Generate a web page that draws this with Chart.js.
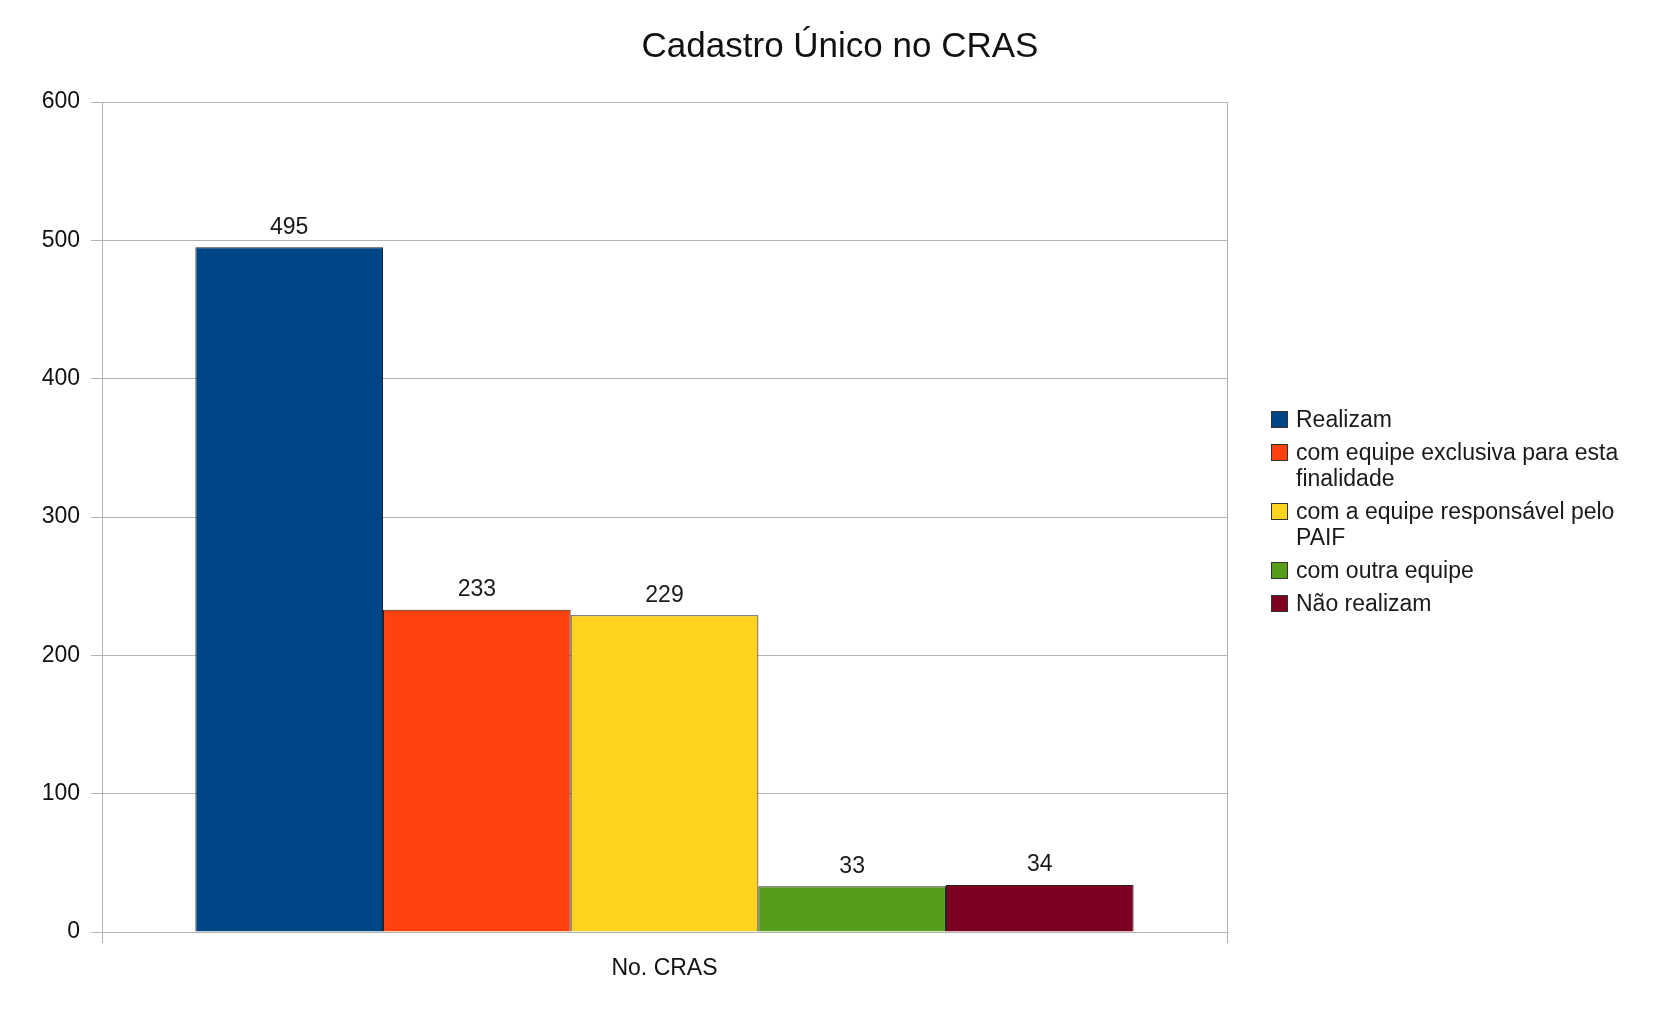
<!DOCTYPE html>
<html lang="pt-BR">
<head>
<meta charset="utf-8">
<title>Cadastro Único no CRAS</title>
<script src="https://cdn.jsdelivr.net/npm/chart.js@4.4.1/dist/chart.umd.min.js"></script>
<style>
  html, body { margin: 0; padding: 0; background: #fff; }
  #wrap { position: relative; width: 1666px; height: 1016px; }
  #legend {
    position: absolute; left: 1271px; top: 406px; width: 380px;
    list-style: none; margin: 0; padding: 0;
    font-family: "Liberation Sans", Arial, sans-serif; font-size: 23px;
    line-height: 26px; color: #1a1a1a;
  }
  #legend li { display: flex; align-items: flex-start; margin-bottom: 7px; }
  #legend .box {
    flex: none; width: 15px; height: 15px; margin-top: 5px; margin-right: 8px;
    border: 1px solid #333;
  }
  #legend .txt { width: 340px; }
</style>
</head>
<body>
<div id="wrap">
  <canvas id="chart" width="1666" height="1016"></canvas>
  <ul id="legend"></ul>
</div>
<script>
const title = "Cadastro Único no CRAS";
const categories = ["No. CRAS"];
const seriesNames = [
  "Realizam",
  "com equipe exclusiva para esta finalidade",
  "com a equipe responsável pelo PAIF",
  "com outra equipe",
  "Não realizam",
];
const seriesValues = [495, 233, 229, 33, 34];
const seriesColors = ["#004586", "#ff420e", "#ffd320", "#579d1c", "#7e0021"];
const yTicks = [0, 100, 200, 300, 400, 500, 600];

const FONT = "'Liberation Sans', Arial, sans-serif";
const GRID = "#b3b3b3";

const valueLabels = {
  id: "valueLabels",
  afterDatasetsDraw(chart) {
    const ctx = chart.ctx;
    ctx.save();
    ctx.font = `23px ${FONT}`;
    ctx.fillStyle = "#1a1a1a";
    ctx.textAlign = "center";
    ctx.textBaseline = "middle";
    chart.data.datasets.forEach((ds, i) => {
      const meta = chart.getDatasetMeta(i);
      meta.data.forEach((bar, j) => {
        ctx.fillText(String(ds.data[j]), bar.x, bar.y - 20);
      });
    });
    ctx.restore();
  },
};

const chart = new Chart(document.getElementById("chart"), {
  type: "bar",
  data: {
    labels: categories,
    datasets: seriesNames.map((name, i) => ({
      label: name,
      data: [seriesValues[i]],
      backgroundColor: seriesColors[i],
      borderColor: "#222",
      borderWidth: 1,
      categoryPercentage: 0.834,
      barPercentage: 1.0,
    })),
  },
  options: {
    responsive: false,
    animation: false,
    layout: { padding: { left: 14, right: 0, top: 0, bottom: 0 } },
    plugins: {
      legend: { display: false },
      tooltip: { enabled: false },
      title: {
        display: true,
        text: title,
        color: "#111",
        font: { family: FONT, size: 35, weight: "normal" },
        padding: { top: 26, bottom: 34 },
      },
    },
    scales: {
      x: {
        offset: true,
        grid: { offset: true, color: GRID, tickLength: 11, lineWidth: 1 },
        border: { color: GRID },
        ticks: { color: "#111", font: { family: FONT, size: 23 }, padding: 12 },
        afterFit(s) { s.height = 84; },
      },
      y: {
        min: 0,
        max: 600,
        afterBuildTicks(s) { s.ticks = yTicks.map((v) => ({ value: v })); },
        grid: { color: GRID, tickLength: 11 },
        border: { color: GRID },
        ticks: { color: "#111", font: { family: FONT, size: 23 }, padding: 11 },
        afterFit(s) { s.width = 88; },
      },
      // empty space on the right where the legend sits
      side: {
        type: "linear",
        position: "right",
        grid: { display: false },
        border: { display: false },
        ticks: { display: false },
        afterFit(s) { s.width = 439; },
      },
    },
  },
  plugins: [valueLabels],
});

const legend = document.getElementById("legend");
seriesNames.forEach((name, i) => {
  const li = document.createElement("li");
  li.innerHTML = `<span class="box" style="background:${seriesColors[i]}"></span><span class="txt"></span>`;
  li.querySelector(".txt").textContent = name;
  legend.appendChild(li);
});
</script>
</body>
</html>
